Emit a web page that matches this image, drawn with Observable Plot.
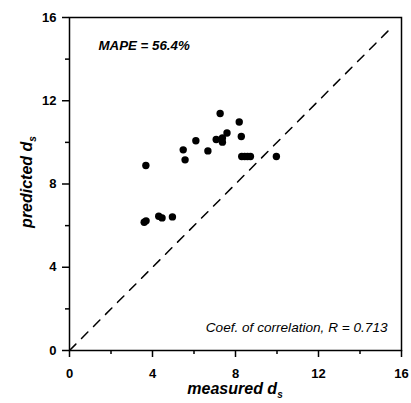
<!DOCTYPE html>
<html><head><meta charset="utf-8">
<script src="https://cdn.jsdelivr.net/npm/d3@7"></script>
<script src="https://cdn.jsdelivr.net/npm/@observablehq/plot@0.6"></script>
<style>body{margin:0;background:#fff}</style>
</head><body><div id="chart"></div>
<script>
const measured  = [7.26, 8.18, 7.59, 7.07, 7.37, 7.37, 8.28, 6.09, 5.48, 6.67, 5.57, 8.30, 8.44, 8.58, 8.72, 9.97, 3.68, 3.60, 3.69, 4.30, 4.46, 4.96];
const predicted = [11.39, 10.98, 10.45, 10.14, 10.21, 10.01, 10.28, 10.08, 9.64, 9.59, 9.16, 9.32, 9.32, 9.32, 9.32, 9.32, 8.89, 6.16, 6.23, 6.45, 6.37, 6.42];
const majorTicks = [0, 4, 8, 12, 16];
const minorTicks = [2, 6, 10, 14];
const identityLine = [0, 15.6];
const mapeLabel = "MAPE = 56.4%";
const corrLabel = "Coef. of correlation, R = 0.713";
const xLabel = ["measured d", "s"];
const yLabel = ["predicted d", "s"];

const data = measured.map((m, i) => ({m, p: predicted[i]}));
const font = "'Liberation Sans', Arial, sans-serif";

const plot = Plot.plot({
  width: 411, height: 403,
  marginLeft: 69, marginRight: 10, marginTop: 17, marginBottom: 53,
  style: {fontFamily: font, fontSize: "13px", color: "#000", background: "#fff"},
  x: {domain: [0, 16]},
  y: {domain: [0, 16]},
  marks: [
    Plot.frame({stroke: "#000", strokeWidth: 1.5}),
    Plot.axisX({ticks: majorTicks, tickSize: 7, tickPadding: 11, label: null, fontWeight: "bold", fontSize: 13, strokeWidth: 1.5}),
    Plot.axisX({ticks: minorTicks, tickSize: 4, tickFormat: () => "", label: null, strokeWidth: 1.5}),
    Plot.axisY({ticks: majorTicks, tickSize: 7, tickPadding: 6, label: null, fontWeight: "bold", fontSize: 13, strokeWidth: 1.5}),
    Plot.axisY({ticks: minorTicks, tickSize: 4, tickFormat: () => "", label: null, strokeWidth: 1.5}),
    Plot.line(identityLine, {x: d => d, y: d => d, stroke: "#000", strokeWidth: 1.5, strokeDasharray: "9,8"}),
    Plot.dot(data, {x: "m", y: "p", r: 3.7, fill: "#000", stroke: "none"}),
    Plot.text([mapeLabel], {text: d => d, frameAnchor: "top-left", dx: 29, dy: 23, textAnchor: "start", fontWeight: "bold", fontStyle: "italic", fontSize: 13.3, fill: "#000"}),
    Plot.text([corrLabel], {text: d => d, frameAnchor: "bottom-right", dx: -14, dy: -19, textAnchor: "end", fontStyle: "italic", fontSize: 13.6, fill: "#000"})
  ]
});

const svg = d3.select(plot);
const xl = svg.append("text")
  .attr("x", 235).attr("y", 394)
  .attr("text-anchor", "middle")
  .attr("font-family", font).attr("font-size", 16)
  .attr("font-weight", "bold").attr("font-style", "italic").attr("fill", "#000");
xl.append("tspan").text(xLabel[0]);
xl.append("tspan").attr("font-size", 10).attr("dy", 4).text(xLabel[1]);

const yl = svg.append("text")
  .attr("transform", "translate(32,182) rotate(-90)")
  .attr("text-anchor", "middle")
  .attr("font-family", font).attr("font-size", 16)
  .attr("font-weight", "bold").attr("font-style", "italic").attr("fill", "#000");
yl.append("tspan").text(yLabel[0]);
yl.append("tspan").attr("font-size", 10).attr("dy", 4).text(yLabel[1]);

document.getElementById("chart").appendChild(plot);
</script>
</body></html>
